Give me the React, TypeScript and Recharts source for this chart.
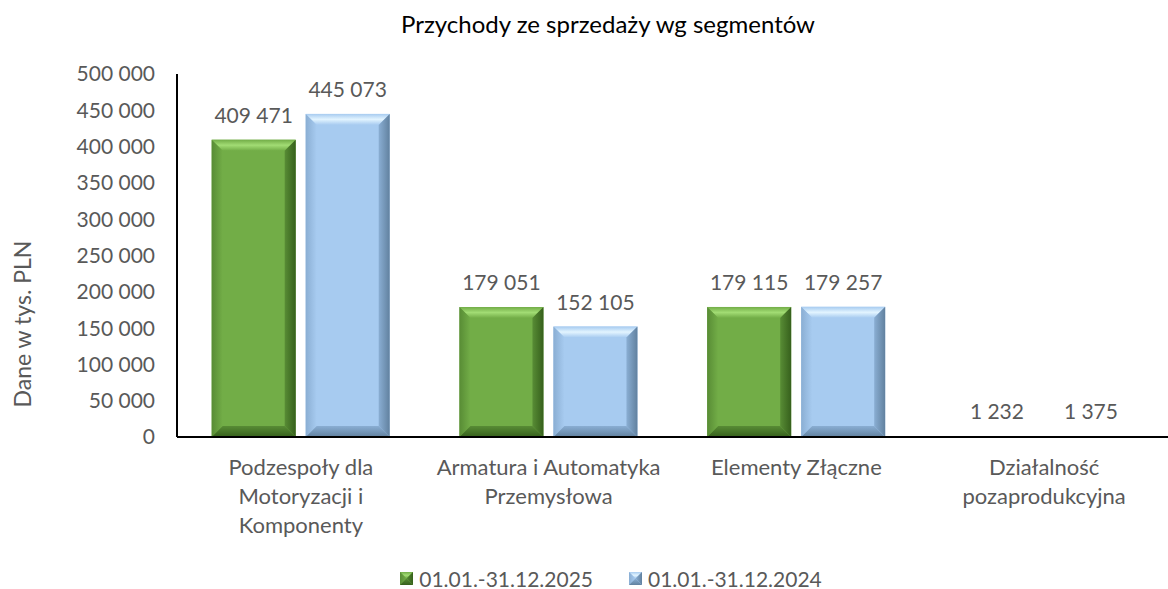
import { BarChart, Bar, XAxis, YAxis, LabelList } from "recharts";

const categories = [
  "Podzespoły dla\nMotoryzacji i\nKomponenty",
  "Armatura i Automatyka\nPrzemysłowa",
  "Elementy Złączne",
  "Działalność\npozaprodukcyjna",
];
const values2025 = [409471, 179051, 179115, 1232];
const values2024 = [445073, 152105, 179257, 1375];
const yTicks = [0, 50000, 100000, 150000, 200000, 250000, 300000, 350000, 400000, 450000, 500000];
const seriesNames = ["01.01.-31.12.2025", "01.01.-31.12.2024"];

const data = categories.map((name, i) => ({
  name,
  a: values2025[i],
  b: values2024[i],
}));

const FONT = "Lato, 'Open Sans', sans-serif";
const GRAY = "#595959";

const fmt = (v: number) => String(v).replace(/\B(?=(\d{3})+(?!\d))/g, " ");

const palettes = {
  green: { base: "#72AD47", light: "#A2DC74", dark: "#36601C", side: "#588C35" },
  blue: { base: "#A7CBF0", light: "#E2F4FF", dark: "#61819F", side: "#8AAED3" },
};

function Bevel(props: any) {
  const { x, y, width: w, height: h, pal, id } = props;
  if (!w || h == null || h <= 0) return null;
  const p = (palettes as any)[pal];
  const b = Math.min(11, h / 2, w / 2);
  return (
    <g>
      <defs>
        <linearGradient id={`${id}-t`} x1="0" y1="0" x2="0" y2="1">
          <stop offset="0" stopColor={p.base} />
          <stop offset="0.5" stopColor={p.light} />
          <stop offset="1" stopColor={p.base} />
        </linearGradient>
        <linearGradient id={`${id}-l`} x1="0" y1="0" x2="1" y2="0">
          <stop offset="0" stopColor={p.side} />
          <stop offset="1" stopColor={p.base} />
        </linearGradient>
        <linearGradient id={`${id}-r`} x1="0" y1="0" x2="1" y2="0">
          <stop offset="0" stopColor={p.side} />
          <stop offset="1" stopColor={p.dark} />
        </linearGradient>
        <linearGradient id={`${id}-b`} x1="0" y1="0" x2="0" y2="1">
          <stop offset="0" stopColor={p.side} />
          <stop offset="1" stopColor={p.dark} />
        </linearGradient>
      </defs>
      <rect x={x} y={y} width={w} height={h} fill={p.base} />
      <polygon
        points={`${x},${y} ${x + w},${y} ${x + w - b},${y + b} ${x + b},${y + b}`}
        fill={`url(#${id}-t)`}
      />
      <polygon
        points={`${x},${y} ${x + b},${y + b} ${x + b},${y + h - b} ${x},${y + h}`}
        fill={`url(#${id}-l)`}
      />
      <polygon
        points={`${x + w},${y} ${x + w - b},${y + b} ${x + w - b},${y + h - b} ${x + w},${y + h}`}
        fill={`url(#${id}-r)`}
      />
      <polygon
        points={`${x},${y + h} ${x + w},${y + h} ${x + w - b},${y + h - b} ${x + b},${y + h - b}`}
        fill={`url(#${id}-b)`}
      />
    </g>
  );
}

function CatTick(props: any) {
  const { x, y, payload } = props;
  const lines = String(payload.value).split("\n");
  return (
    <text x={x} y={y} textAnchor="middle" fill={GRAY} fontSize={22} fontFamily={FONT}>
      {lines.map((l, i) => (
        <tspan key={i} x={x} dy={i === 0 ? 30 : 29}>
          {l}
        </tspan>
      ))}
    </text>
  );
}

function LegendIcon({ pal }: { pal: string }) {
  return (
    <svg width={13} height={13} style={{ marginRight: 6 }}>
      <Bevel x={0} y={0} width={13} height={13} pal={pal} id={`leg-${pal}`} />
    </svg>
  );
}

export default function App() {
  return (
    <div style={{ position: "absolute", left: 0, top: 0, width: 1168, height: 589, background: "#fff", fontFamily: FONT }}>
      <div style={{ position: "absolute", left: 0, top: 9, width: 1216, textAlign: "center", fontSize: 24, color: "#000" }}>
        Przychody ze sprzedaży wg segmentów
      </div>
      <div
        style={{
          position: "absolute",
          left: 22,
          top: 324,
          transform: "translate(-50%, -50%) rotate(-90deg)",
          whiteSpace: "nowrap",
          fontSize: 23,
          color: GRAY,
        }}
      >
        Dane w tys. PLN
      </div>
      <BarChart
        width={1168}
        height={589}
        data={data}
        margin={{ top: 74, right: 0, bottom: 32, left: 0 }}
        barCategoryGap="14%"
        barGap={10}
      >
        <XAxis
          dataKey="name"
          height={120}
          tickLine={false}
          axisLine={{ stroke: "#000", strokeWidth: 2 }}
          tick={<CatTick />}
          interval={0}
        />
        <YAxis
          width={177}
          domain={[0, 500000]}
          ticks={yTicks}
          tickFormatter={fmt}
          tickLine={false}
          tickMargin={16}
          axisLine={{ stroke: "#000", strokeWidth: 2 }}
          tick={{ fill: GRAY, fontSize: 21, fontFamily: FONT }}
        />
        <Bar dataKey="a" name={seriesNames[0]} isAnimationActive={false} shape={(p: any) => <Bevel {...p} pal="green" id="bg" />}>
          <LabelList dataKey="a" position="top" offset={17} formatter={fmt} fill={GRAY} fontSize={21} fontFamily={FONT} />
        </Bar>
        <Bar dataKey="b" name={seriesNames[1]} isAnimationActive={false} shape={(p: any) => <Bevel {...p} pal="blue" id="bb" />}>
          <LabelList dataKey="b" position="top" offset={17} formatter={fmt} fill={GRAY} fontSize={21} fontFamily={FONT} />
        </Bar>
      </BarChart>
      <div
        style={{
          position: "absolute",
          left: 0,
          top: 566,
          width: 1222,
          display: "flex",
          justifyContent: "center",
          alignItems: "center",
          fontSize: 21,
          color: GRAY,
          gap: 36,
        }}
      >
        <span style={{ display: "flex", alignItems: "center" }}>
          <LegendIcon pal="green" />
          {seriesNames[0]}
        </span>
        <span style={{ display: "flex", alignItems: "center" }}>
          <LegendIcon pal="blue" />
          {seriesNames[1]}
        </span>
      </div>
    </div>
  );
}
